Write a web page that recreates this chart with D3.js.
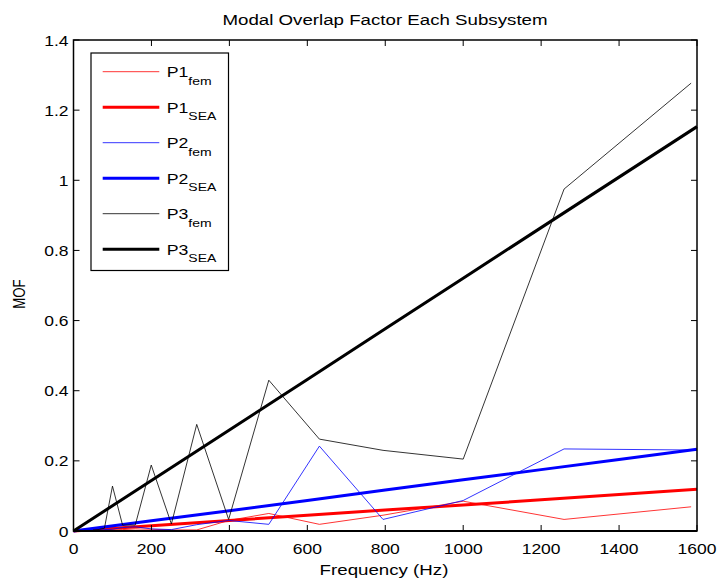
<!DOCTYPE html>
<html>
<head>
<meta charset="utf-8">
<script src="https://cdn.jsdelivr.net/npm/d3@7"></script>
<style>
  body { margin: 0; background: #fff; }
  svg { font-family: "Liberation Sans", Arial, sans-serif; }
</style>
</head>
<body>
<svg id="chart" width="719" height="582"></svg>
<script>
// 1/3 octave centre frequencies used for the fem results
var femFreq = [50.1, 63.1, 79.4, 100, 125.9, 158.5, 199.5, 251.2, 316.2, 398.1, 501.2, 631, 794.3, 1000, 1258.9, 1584.9];
var p1Fem = [0.001, 0.002, 0.002, 0.002, 0.004, 0.006, 0.005, 0.003, 0.003, 0.030, 0.050, 0.019, 0.045, 0.085, 0.033, 0.069];
var p2Fem = [0.002, 0.003, 0.004, 0.005, 0.010, 0.012, 0.006, 0.004, 0.018, 0.030, 0.019, 0.242, 0.033, 0.087, 0.234, 0.231];
var p3Fem = [0.003, 0.004, 0.008, 0.128, 0.017, 0.017, 0.188, 0.020, 0.304, 0.033, 0.430, 0.262, 0.230, 0.205, 0.975, 1.277];

// SEA estimates
var seaFreq = [0, 200, 400, 600, 800, 1000, 1200, 1400, 1600];
var p1Sea = [0, 0.015, 0.030, 0.045, 0.060, 0.074, 0.089, 0.104, 0.119];
var p2Sea = [0, 0.029, 0.058, 0.087, 0.117, 0.146, 0.175, 0.204, 0.233];
var p3Sea = [0, 0.144, 0.288, 0.432, 0.577, 0.721, 0.865, 1.009, 1.153];

var xTicks = [0, 200, 400, 600, 800, 1000, 1200, 1400, 1600];
var yTicks = [0, 0.2, 0.4, 0.6, 0.8, 1, 1.2, 1.4];

var legendNames = ["P1", "P1", "P2", "P2", "P3", "P3"];
var legendSubs = ["fem", "SEA", "fem", "SEA", "fem", "SEA"];

var svg = d3.select("#chart");
var box = { left: 73.5, right: 697, top: 40, bottom: 531 };

var x = d3.scaleLinear().domain([0, 1600]).range([box.left, box.right]);
var y = d3.scaleLinear().domain([0, 1.4]).range([box.bottom, box.top]);

// text in the picture is squashed vertically
function label(g, tx, ty, str, size, anchor) {
    return g.append("text")
        .attr("transform", "translate(" + tx + "," + ty + ") scale(1,0.8)")
        .attr("text-anchor", anchor)
        .style("font-size", size + "px")
        .text(str);
}

var series = [
    { f: femFreq, v: p1Fem, color: "#ff0000", w: 0.8 },
    { f: seaFreq, v: p1Sea, color: "#ff0000", w: 3 },
    { f: femFreq, v: p2Fem, color: "#0000ff", w: 0.8 },
    { f: seaFreq, v: p2Sea, color: "#0000ff", w: 3 },
    { f: femFreq, v: p3Fem, color: "#000000", w: 0.8 },
    { f: seaFreq, v: p3Sea, color: "#000000", w: 3 }
];

var line = d3.line()
    .x(function(d) { return x(d[0]); })
    .y(function(d) { return y(d[1]); });

var plot = svg.append("g");
series.forEach(function(s) {
    var pts = s.f.map(function(f, i) { return [f, s.v[i]]; });
    plot.append("path")
        .attr("d", line(pts))
        .attr("fill", "none")
        .attr("stroke", s.color)
        .attr("stroke-width", s.w);
});

// axes box with inward ticks on every side
var axes = svg.append("g");
axes.append("rect")
    .attr("x", box.left).attr("y", box.top)
    .attr("width", box.right - box.left).attr("height", box.bottom - box.top)
    .attr("fill", "none").attr("stroke", "#000").attr("stroke-width", 1.5);
axes.append("line")
    .attr("x1", box.left).attr("x2", box.right)
    .attr("y1", box.bottom).attr("y2", box.bottom)
    .attr("stroke", "#000").attr("stroke-width", 2);

xTicks.forEach(function(t) {
    axes.append("line").attr("x1", x(t)).attr("x2", x(t)).attr("y1", box.bottom).attr("y2", box.bottom - 6).attr("stroke", "#000");
    axes.append("line").attr("x1", x(t)).attr("x2", x(t)).attr("y1", box.top).attr("y2", box.top + 6).attr("stroke", "#000");
    label(axes, x(t), 554, d3.format("d")(t), 17.5, "middle");
});
yTicks.forEach(function(t) {
    axes.append("line").attr("x1", box.left).attr("x2", box.left + 6).attr("y1", y(t)).attr("y2", y(t)).attr("stroke", "#000");
    axes.append("line").attr("x1", box.right).attr("x2", box.right - 6).attr("y1", y(t)).attr("y2", y(t)).attr("stroke", "#000");
    label(axes, 68.5, y(t) + 5.5, String(t), 17.5, "end");
});

label(svg, 385, 25, "Modal Overlap Factor Each Subsystem", 18.7, "middle");
label(svg, 384, 575, "Frequency (Hz)", 18.7, "middle");
svg.append("text")
    .attr("transform", "translate(25,294) rotate(-90) scale(0.8,1)")
    .attr("text-anchor", "middle")
    .style("font-size", "16.5px")
    .text("MOF");

// legend
var legend = svg.append("g");
legend.append("rect")
    .attr("x", 91).attr("y", 53).attr("width", 137.5).attr("height", 217.5)
    .attr("fill", "#fff").attr("stroke", "#000").attr("stroke-width", 1.2);
series.forEach(function(s, i) {
    var ry = 71.7 + i * 35.5;
    legend.append("line")
        .attr("x1", 102.7).attr("x2", 159.3).attr("y1", ry).attr("y2", ry)
        .attr("stroke", s.color).attr("stroke-width", s.w);
    var t = legend.append("text")
        .attr("transform", "translate(166.7," + (ry + 5.6) + ") scale(1,0.8)")
        .style("font-size", "17.7px");
    t.append("tspan").text(legendNames[i]);
    t.append("tspan").attr("dy", 9.4).style("font-size", "14px").text(legendSubs[i]);
});
</script>
</body>
</html>
